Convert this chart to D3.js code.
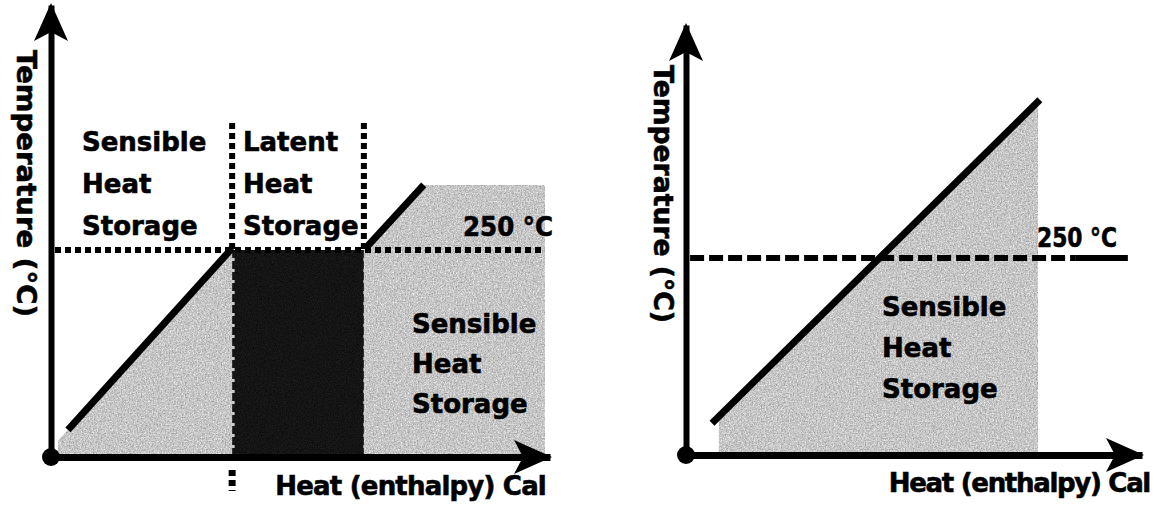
<!DOCTYPE html>
<html lang="en">
<head>
<meta charset="utf-8">
<title>Sensible and latent heat storage</title>
<script src="https://d3js.org/d3.v7.min.js"></script>
<style>
  body { margin: 0; background: #fff; }
  text { font-family: "DejaVu Sans", sans-serif; font-weight: bold; fill: #000; stroke: #000; stroke-width: 0.6px; }
</style>
</head>
<body>
<div id="chart"></div>
<script>
// both panels use relative units: heat 0-100 on x, temperature 0-100 on y

// left panel: sensible + latent (phase change) storage
const pcmSlope1Heat = [3.4, 36.3];
const pcmSlope1Temp = [6.0, 46.2];
const pcmSlope2Heat = [63.3, 74.7];
const pcmSlope2Temp = [46.5, 60.2];
const pcmFill1Heat = [1.4, 36.3];
const pcmFill1Temp = [3.6, 46.2];
const pcmFill2Heat = [62.7, 74.7, 99];
const pcmFill2Temp = [46.2, 60.2, 60.2];
const latentBand = [36.3, 62.7];
const pcmMeltTemp = 45.8;
const pcmMeltRange = [0.8, 99];
const dividerTop = 73.9;
const dividerBelow = [-2.9, -7.5];

// right panel: sensible storage only
const sensSlopeHeat = [5.7, 77.6];
const sensSlopeTemp = [7.4, 82.6];
const sensFillHeat = [7.2, 77.2];
const sensFillTemp = [9.0, 82.2];
const sensMeltTemp = 45.8;
const sensMeltRange = [0.9, 85.5, 96.9];

// texts
const sensibleLines = ["Sensible", "Heat", "Storage"];
const latentLines = ["Latent", "Heat", "Storage"];
const meltLabel = "250 \u00B0C";
const xLabel = "Heat (enthalpy) Cal";
const yLabel = "Temperature (\u00B0C)";

const W = 1165, H = 505;
const svg = d3.select("#chart").append("svg")
    .attr("width", W).attr("height", H);

const defs = svg.append("defs");
function grain(id, base, amp, seed) {
    const f = defs.append("filter").attr("id", id)
        .attr("color-interpolation-filters", "sRGB")
        .attr("x", 0).attr("y", 0).attr("width", 1).attr("height", 1);
    f.append("feTurbulence").attr("type", "fractalNoise")
        .attr("baseFrequency", 0.75).attr("numOctaves", 2).attr("seed", seed)
        .attr("result", "noise");
    const row = amp + " 0 0 0 " + base;
    f.append("feColorMatrix").attr("in", "noise").attr("type", "matrix")
        .attr("values", row + " " + row + " " + row + " 0 0 0 0 1")
        .attr("result", "tone");
    f.append("feComposite").attr("in", "tone").attr("in2", "SourceGraphic")
        .attr("operator", "in");
}
grain("grainLight", 0.5, 0.55, 4);
grain("grainDark", 0.0, 0.16, 9);

const left = {
    x: d3.scaleLinear().domain([0, 100]).range([51, 550]),
    y: d3.scaleLinear().domain([0, 100]).range([457, 5])
};
const right = {
    x: d3.scaleLinear().domain([0, 100]).range([686, 1142]),
    y: d3.scaleLinear().domain([0, 100]).range([455, 25])
};

const arrowPath = "M0,-2L17,36L0,27L-17,36Z";

function drawAxes(p) {
    const g = svg.append("g");
    // x axis
    g.append("g")
        .attr("transform", "translate(0," + p.y(0) + ")")
        .call(d3.axisBottom(p.x).ticks(0).tickSizeOuter(0))
        .call(a => a.select(".domain").attr("stroke", "#000").attr("stroke-width", 7));
    // y axis
    g.append("g")
        .attr("transform", "translate(" + p.x(0) + ",0)")
        .call(d3.axisLeft(p.y).ticks(0).tickSizeOuter(0))
        .call(a => a.select(".domain").attr("stroke", "#000").attr("stroke-width", 6));
    g.append("path").attr("d", arrowPath)
        .attr("transform", "translate(" + p.x(0) + "," + p.y(100) + ")");
    g.append("path").attr("d", arrowPath)
        .attr("transform", "translate(" + p.x(100) + "," + p.y(0) + ") rotate(90)");
    g.append("circle")
        .attr("cx", p.x(0)).attr("cy", p.y(0)).attr("r", 9);
}

function slope(p, hs, ts) {
    svg.append("line")
        .attr("x1", p.x(hs[0])).attr("y1", p.y(ts[0]))
        .attr("x2", p.x(hs[1])).attr("y2", p.y(ts[1]))
        .attr("stroke", "#000").attr("stroke-width", 7);
}

function fillArea(p, hs, ts, filter) {
    const pts = hs.map((h, i) => [h, ts[i]]);
    svg.append("path")
        .datum(pts)
        .attr("d", d3.area().x(d => p.x(d[0])).y0(p.y(0)).y1(d => p.y(d[1])))
        .attr("fill", "#bbb")
        .attr("filter", "url(#" + filter + ")");
}

function block(lines, x, y0, step) {
    const t = svg.append("text").attr("font-size", 26);
    lines.forEach((s, i) => {
        t.append("tspan").attr("x", x).attr("y", y0 + i * step).text(s);
    });
}

function fitText(s, x, y, len, rotate) {
    const t = svg.append("text")
        .attr("font-size", 26)
        .attr("textLength", len)
        .attr("lengthAdjust", "spacingAndGlyphs")
        .text(s);
    if (rotate) t.attr("transform", "translate(" + x + "," + y + ") rotate(90)");
    else t.attr("x", x).attr("y", y);
}

function axisLabel(s, xEnd, y, spacing) {
    svg.append("text")
        .attr("font-size", 26)
        .attr("letter-spacing", spacing)
        .attr("text-anchor", "end")
        .attr("x", xEnd).attr("y", y)
        .text(s);
}

// ---------- left panel ----------
const L = left;
fillArea(L, pcmFill1Heat, pcmFill1Temp, "grainLight");
fillArea(L, pcmFill2Heat, pcmFill2Temp, "grainLight");
svg.append("rect")
    .attr("x", L.x(latentBand[0])).attr("y", L.y(pcmMeltTemp))
    .attr("width", L.x(latentBand[1]) - L.x(latentBand[0]))
    .attr("height", L.y(0) - L.y(pcmMeltTemp))
    .attr("fill", "#111")
    .attr("filter", "url(#grainDark)");

// melting level, dotted
svg.append("line")
    .attr("x1", L.x(pcmMeltRange[0])).attr("x2", L.x(pcmMeltRange[1]))
    .attr("y1", L.y(pcmMeltTemp)).attr("y2", L.y(pcmMeltTemp))
    .attr("stroke", "#000").attr("stroke-width", 6).attr("stroke-dasharray", "6,4");

// phase-change dividers
latentBand.forEach(h => {
    svg.append("line")
        .attr("x1", L.x(h)).attr("x2", L.x(h))
        .attr("y1", L.y(dividerTop)).attr("y2", L.y(pcmMeltTemp))
        .attr("stroke", "#000").attr("stroke-width", 6).attr("stroke-dasharray", "6,4");
    svg.append("line")
        .attr("x1", L.x(h) + 1).attr("x2", L.x(h) + 1)
        .attr("y1", L.y(pcmMeltTemp) + 8).attr("y2", L.y(0) - 4)
        .attr("stroke", "#ccc").attr("stroke-width", 3).attr("stroke-dasharray", "3,8");
});
svg.append("line")
    .attr("x1", L.x(latentBand[0])).attr("x2", L.x(latentBand[0]))
    .attr("y1", L.y(dividerBelow[0])).attr("y2", L.y(dividerBelow[1]))
    .attr("stroke", "#000").attr("stroke-width", 7).attr("stroke-dasharray", "6,4");

slope(L, pcmSlope1Heat, pcmSlope1Temp);
slope(L, pcmSlope2Heat, pcmSlope2Temp);
drawAxes(L);

block(sensibleLines, 82, 151, 42);
block(latentLines, 243, 151, 42);
block(sensibleLines, 412, 333, 40);
fitText(meltLabel, 463, 236, 90);
axisLabel(xLabel, 546, 495, -0.8);
fitText(yLabel, 17, 50, 267, true);

// ---------- right panel ----------
const R = right;
fillArea(R, sensFillHeat, sensFillTemp, "grainLight");
svg.append("line")
    .attr("x1", R.x(sensMeltRange[0])).attr("x2", R.x(sensMeltRange[1]))
    .attr("y1", R.y(sensMeltTemp)).attr("y2", R.y(sensMeltTemp))
    .attr("stroke", "#000").attr("stroke-width", 6).attr("stroke-dasharray", "14,5");
svg.append("line")
    .attr("x1", R.x(sensMeltRange[1])).attr("x2", R.x(sensMeltRange[2]))
    .attr("y1", R.y(sensMeltTemp)).attr("y2", R.y(sensMeltTemp))
    .attr("stroke", "#000").attr("stroke-width", 6);
slope(R, sensSlopeHeat, sensSlopeTemp);
drawAxes(R);

block(sensibleLines, 882, 316, 41);
fitText(meltLabel, 1037, 247, 80);
axisLabel(xLabel, 1150, 492, -1.3);
fitText(yLabel, 654, 65, 258, true);
</script>
</body>
</html>
